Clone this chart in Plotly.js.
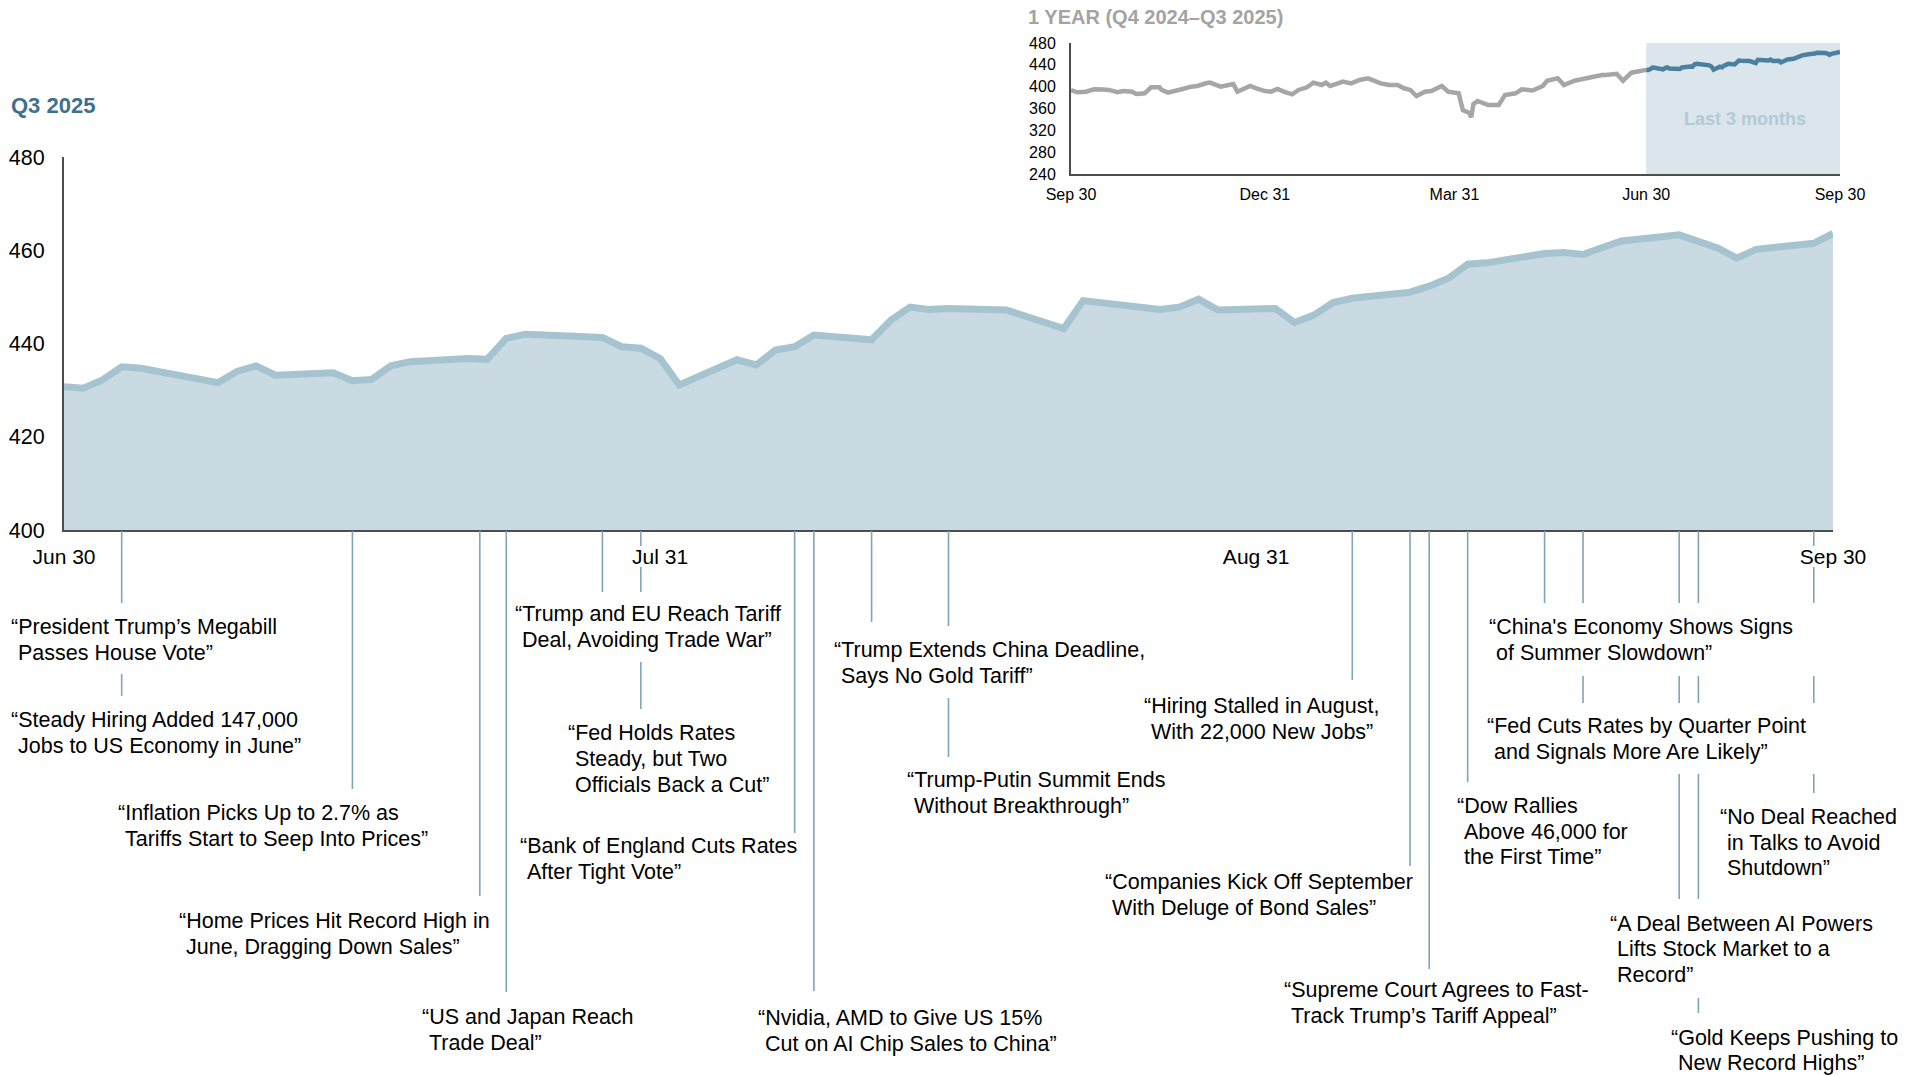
<!DOCTYPE html>
<html>
<head>
<meta charset="utf-8">
<script src="https://cdn.plot.ly/plotly-3.0.1.min.js"></script>
<style>
  html, body { margin: 0; padding: 0; background: #fff; }
  #chart { width: 1923px; height: 1075px; }
</style>
</head>
<body>
<div id="chart"></div>
<script>
// ---------------- DATA ----------------
const q3Dates = ['2025-06-30','2025-07-01','2025-07-02','2025-07-03','2025-07-04','2025-07-07','2025-07-08','2025-07-09','2025-07-10','2025-07-11','2025-07-14','2025-07-15','2025-07-16','2025-07-17','2025-07-18','2025-07-21','2025-07-22','2025-07-23','2025-07-24','2025-07-25','2025-07-28','2025-07-29','2025-07-30','2025-07-31','2025-08-01','2025-08-04','2025-08-05','2025-08-06','2025-08-07','2025-08-08','2025-08-11','2025-08-12','2025-08-13','2025-08-14','2025-08-15','2025-08-18','2025-08-19','2025-08-20','2025-08-21','2025-08-22','2025-08-25','2025-08-26','2025-08-27','2025-08-28','2025-08-29','2025-09-01','2025-09-02','2025-09-03','2025-09-04','2025-09-05','2025-09-08','2025-09-09','2025-09-10','2025-09-11','2025-09-12','2025-09-15','2025-09-16','2025-09-17','2025-09-18','2025-09-19','2025-09-22','2025-09-23','2025-09-24','2025-09-25','2025-09-26','2025-09-29','2025-09-30'];
const q3Values = [430.7,
  430.4, 432.2, 435.0, 434.7,
  432.2, 431.6, 434.0, 435.2, 433.2,
  433.7, 432.0, 432.3, 435.2, 436.1,
  436.8, 436.6, 441.1, 442.0, 441.8,
  441.3, 439.3, 439.0, 436.8, 431.1,
  436.5, 435.4, 438.6, 439.3, 441.8,
  440.8, 445.0, 447.8, 447.3, 447.5,
  447.2, 445.9, 444.5, 443.2, 449.2,
  447.8, 447.3, 447.8, 449.5, 447.2,
  447.5, 444.5, 446.1, 448.8, 449.7,
  451.0, 452.3, 454.0, 457.0, 457.3,
  459.3, 459.5, 459.1, 460.6, 462.0,
  463.3, 461.7, 460.5, 458.3, 460.2,
  461.5, 463.6];

// Earlier nine months (Q4 2024 – Q2 2025)
const yearDates = ['2024-09-30','2024-10-03','2024-10-07','2024-10-11','2024-10-15','2024-10-18','2024-10-22','2024-10-25','2024-10-29','2024-10-31','2024-11-04','2024-11-07','2024-11-11','2024-11-12','2024-11-15','2024-11-19','2024-11-22','2024-11-26','2024-11-29','2024-12-03','2024-12-05','2024-12-10','2024-12-13','2024-12-16','2024-12-18','2024-12-20','2024-12-24','2024-12-27','2024-12-31','2025-01-03','2025-01-06','2025-01-09','2025-01-13','2025-01-16','2025-01-20','2025-01-23','2025-01-27','2025-01-29','2025-01-31','2025-02-03','2025-02-06','2025-02-10','2025-02-12','2025-02-14','2025-02-18','2025-02-21','2025-02-24','2025-02-28','2025-03-04','2025-03-07','2025-03-10','2025-03-13','2025-03-17','2025-03-20','2025-03-25','2025-03-28','2025-04-02','2025-04-03','2025-04-04','2025-04-07','2025-04-08','2025-04-09','2025-04-11','2025-04-16','2025-04-21','2025-04-24','2025-04-29','2025-05-02','2025-05-07','2025-05-12','2025-05-14','2025-05-19','2025-05-22','2025-05-27','2025-05-30','2025-06-04','2025-06-09','2025-06-11','2025-06-16','2025-06-19','2025-06-23'];
const yearValues = [393.9, 389.7, 390.8, 395.2, 395.0, 394.0, 389.7, 392.0, 390.8, 386.6, 387.8, 398.8, 398.8, 394.0, 389.0, 394.0, 395.7, 400.0, 401.3, 406.2, 407.4, 400.0, 403.0, 405.0, 390.8, 395.0, 401.3, 397.0, 392.0, 390.8, 395.7, 390.8, 386.0, 394.0, 398.8, 407.4, 403.0, 407.4, 401.3, 405.0, 409.3, 406.0, 409.3, 412.2, 415.3, 411.0, 406.0, 403.0, 403.0, 397.0, 394.0, 382.9, 390.8, 392.0, 401.3, 390.8, 387.8, 372.0, 357.0, 352.0, 344.0, 368.0, 373.7, 366.4, 366.4, 384.7, 387.8, 395.2, 393.0, 401.2, 410.9, 415.3, 403.0, 410.9, 413.5, 418.3, 421.4, 421.4, 423.5, 410.9, 425.6];

const mainTickVals = ['2025-06-30','2025-07-31','2025-08-31','2025-09-30'];
const mainTickText = ['Jun 30','Jul 31','Aug 31','Sep 30'];
const yTickVals = [400, 420, 440, 460, 480];
const insetTickVals = ['2024-09-30','2024-12-31','2025-03-31','2025-06-30','2025-09-30'];
const insetTickText = ['Sep 30','Dec 31','Mar 31','Jun 30','Sep 30'];
const insetYTicks = [240, 280, 320, 360, 400, 440, 480];
const recentStart = '2025-06-30';
const recentEnd = '2025-09-30';

const eventDates = ['2025-07-03','2025-07-03','2025-07-15','2025-07-21 15:00','2025-07-23','2025-07-28','2025-07-30','2025-08-07','2025-08-08','2025-08-11','2025-08-15','2025-09-05','2025-09-08','2025-09-09','2025-09-11','2025-09-15','2025-09-17','2025-09-22','2025-09-23','2025-09-29'];
const eventHeadlines = [
  ['“President Trump’s Megabill', 'Passes House Vote”'],
  ['“Steady Hiring Added 147,000', 'Jobs to US Economy in June”'],
  ['“Inflation Picks Up to 2.7% as', 'Tariffs Start to Seep Into Prices”'],
  ['“Home Prices Hit Record High in', 'June, Dragging Down Sales”'],
  ['“US and Japan Reach', 'Trade Deal”'],
  ['“Trump and EU Reach Tariff', 'Deal, Avoiding Trade War”'],
  ['“Fed Holds Rates', 'Steady, but Two', 'Officials Back a Cut”'],
  ['“Bank of England Cuts Rates', 'After Tight Vote”'],
  ['“Nvidia, AMD to Give US 15%', 'Cut on AI Chip Sales to China”'],
  ['“Trump Extends China Deadline,', 'Says No Gold Tariff”'],
  ['“Trump-Putin Summit Ends', 'Without Breakthrough”'],
  ['“Hiring Stalled in August,', 'With 22,000 New Jobs”'],
  ['“Companies Kick Off September', 'With Deluge of Bond Sales”'],
  ['“Supreme Court Agrees to Fast-', 'Track Trump’s Tariff Appeal”'],
  ['“Dow Rallies', 'Above 46,000 for', 'the First Time”'],
  ['“China\'s Economy Shows Signs', 'of Summer Slowdown”'],
  ['“Fed Cuts Rates by Quarter Point', 'and Signals More Are Likely”'],
  ['“A Deal Between AI Powers', 'Lifts Stock Market to a', 'Record”'],
  ['“Gold Keeps Pushing to', 'New Record Highs”'],
  ['“No Deal Reached', 'in Talks to Avoid', 'Shutdown”']
];

// ---------------- LAYOUT (pixel positions) ----------------
const W = 1923, H = 1075;
const px = v => v / W;
const py = v => 1 - v / H;

// leader line segments (top, bottom) in px, per event
const leaderSegs = [
  [[531,603]],
  [[674,696]],
  [[531,789]],
  [[531,896]],
  [[531,992]],
  [[531,592]],
  [[531,546],[567,592],[662,709]],
  [[531,833]],
  [[531,991]],
  [[531,622]],
  [[531,626],[698,757]],
  [[531,680]],
  [[531,866]],
  [[531,969]],
  [[531,782]],
  [[531,603]],
  [[531,603],[676,703]],
  [[531,603],[676,703],[774,899]],
  [[531,603],[676,703],[774,899],[998,1013]],
  [[531,546],[567,603],[676,703],[774,793]]
];
// label left edge and first-line centre (px)
const labelPos = [
  [9.8, 626.7], [9.8, 720], [116.5, 813], [177.8, 921], [420.7, 1017],
  [513.9, 614.4], [566.6, 733.4], [518.8, 846], [756.7, 1018], [832.7, 650],
  [906.3, 780], [1143, 706], [1103.8, 882], [1282.8, 989.7], [1455.7, 805.7],
  [1487.6, 626.7], [1486.4, 726], [1609, 923.5], [1670.4, 1037.5], [1719.4, 816.8]
];
const LINE_GAP = 25.8;
const INDENT = 7;
const FONT = 'Liberation Sans, Arial, Helvetica, sans-serif';

const shapes = [];
const leaderColor = '#7ea6b8';
eventDates.forEach((d, i) => {
  leaderSegs[i].forEach(seg => {
    shapes.push({type: 'line', xref: 'x', yref: 'paper', x0: d, x1: d,
      y0: py(seg[0]), y1: py(seg[1]), line: {color: leaderColor, width: 1.6}, layer: 'above'});
  });
});
// shaded "last 3 months" band in inset
shapes.push({type: 'rect', xref: 'x2', yref: 'y2', x0: recentStart, x1: recentEnd, y0: 240, y1: 481,
  fillcolor: '#dae6ec', line: {width: 0}, layer: 'below'});

const annotations = [];
eventHeadlines.forEach((lines, i) => {
  lines.forEach((l, k) => {
    annotations.push({xref: 'paper', yref: 'paper',
      x: px(labelPos[i][0] + (k === 0 ? 0 : INDENT)), y: py(labelPos[i][1] + k * LINE_GAP),
      xanchor: 'left', yanchor: 'middle', align: 'left', showarrow: false, text: l,
      font: {family: FONT, size: 21.5, color: '#000'}, borderpad: 0});
  });
});
annotations.push({xref: 'paper', yref: 'paper', x: px(8.5), y: py(105.5), xanchor: 'left', yanchor: 'middle',
  showarrow: false, text: 'Q3 2025', font: {family: FONT, size: 22, color: '#41708c', weight: 'bold'}});
annotations.push({xref: 'paper', yref: 'paper', x: px(1026), y: py(17), xanchor: 'left', yanchor: 'middle',
  showarrow: false, text: '1 YEAR (Q4 2024–Q3 2025)', font: {family: FONT, size: 20, color: '#a3a3a3', weight: 'bold'}});
annotations.push({xref: 'paper', yref: 'paper', x: px(1745), y: py(119), xanchor: 'center', yanchor: 'middle',
  showarrow: false, text: 'Last 3 months', font: {family: FONT, size: 18, color: '#b3cad6', weight: 'bold'}});

const traces = [
  {x: q3Dates, y: q3Values, xaxis: 'x', yaxis: 'y', type: 'scatter', mode: 'lines',
   fill: 'tozeroy', fillcolor: '#c9dae3', line: {color: '#a6c4d0', width: 7}, hoverinfo: 'skip'},
  {x: yearDates.concat([q3Dates[0]]), y: yearValues.concat([q3Values[0]]), xaxis: 'x2', yaxis: 'y2',
   type: 'scatter', mode: 'lines', line: {color: '#a6a6a6', width: 4.5}, hoverinfo: 'skip'},
  {x: q3Dates, y: q3Values, xaxis: 'x2', yaxis: 'y2', type: 'scatter', mode: 'lines',
   line: {color: '#4b819e', width: 4.5}, hoverinfo: 'skip'}
];

const axisLine = '#4d4d4d';
const layout = {
  width: W, height: H,
  margin: {l: 0, r: 0, t: 0, b: 0},
  paper_bgcolor: '#ffffff', plot_bgcolor: 'rgba(0,0,0,0)',
  showlegend: false,
  font: {family: FONT, color: '#000'},
  xaxis: {type: 'date', domain: [px(64), px(1833)], range: [recentStart, recentEnd], anchor: 'y',
    showline: true, linecolor: axisLine, linewidth: 2, ticks: '', showgrid: false, zeroline: false,
    tickvals: mainTickVals, ticktext: mainTickText, tickfont: {size: 21, color: '#000'},
    ticklabelstandoff: 7, fixedrange: true},
  yaxis: {domain: [py(530), py(157)], range: [400, 480], anchor: 'x',
    showline: true, linecolor: axisLine, linewidth: 2, ticks: '', showgrid: false, zeroline: false,
    tickvals: yTickVals, tickfont: {size: 21.5, color: '#000'}, ticklabelstandoff: 13, fixedrange: true},
  xaxis2: {type: 'date', domain: [px(1071), px(1840)], range: ['2024-09-30', recentEnd], anchor: 'y2',
    showline: true, linecolor: axisLine, linewidth: 2, ticks: '', showgrid: false, zeroline: false,
    tickvals: insetTickVals, ticktext: insetTickText, tickfont: {size: 16, color: '#000'},
    ticklabelstandoff: 5, fixedrange: true},
  yaxis2: {domain: [py(174), py(43)], range: [240, 480], anchor: 'x2',
    showline: true, linecolor: axisLine, linewidth: 2, ticks: '', showgrid: false, zeroline: false,
    tickvals: insetYTicks, tickfont: {size: 16, color: '#000'}, ticklabelstandoff: 10, fixedrange: true},
  shapes: shapes,
  annotations: annotations
};

Plotly.newPlot('chart', traces, layout, {displayModeBar: false, staticPlot: true});
</script>
</body>
</html>
